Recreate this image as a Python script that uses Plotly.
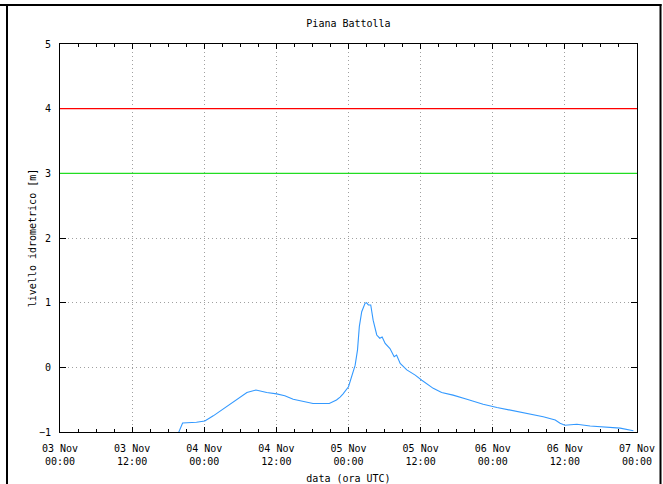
import plotly.graph_objects as go

title_text = "Piana Battolla"
y_title = "livello idrometrico [m]"
x_title = "data (ora UTC)"

times = [
    "2011-11-03 19:30", "2011-11-03 20:24", "2011-11-03 22:42", "2011-11-04 00:06",
    "2011-11-04 01:30", "2011-11-04 02:54", "2011-11-04 04:18", "2011-11-04 05:42",
    "2011-11-04 07:06", "2011-11-04 08:36", "2011-11-04 10:24", "2011-11-04 12:03",
    "2011-11-04 13:24", "2011-11-04 14:48", "2011-11-04 16:30", "2011-11-04 18:06",
    "2011-11-04 20:48", "2011-11-04 22:00", "2011-11-04 22:36", "2011-11-04 23:06",
    "2011-11-05 00:00", "2011-11-05 00:30", "2011-11-05 01:06", "2011-11-05 01:30",
    "2011-11-05 01:48", "2011-11-05 02:12", "2011-11-05 02:45", "2011-11-05 03:00",
    "2011-11-05 03:18", "2011-11-05 03:42", "2011-11-05 04:06", "2011-11-05 04:42",
    "2011-11-05 05:12", "2011-11-05 05:36", "2011-11-05 06:06", "2011-11-05 06:54",
    "2011-11-05 07:36", "2011-11-05 08:00", "2011-11-05 08:36", "2011-11-05 09:42",
    "2011-11-05 11:06", "2011-11-05 12:12", "2011-11-05 13:18", "2011-11-05 14:06",
    "2011-11-05 15:30", "2011-11-05 17:24", "2011-11-05 19:42", "2011-11-05 22:24",
    "2011-11-06 00:42", "2011-11-06 02:54", "2011-11-06 05:36", "2011-11-06 08:24",
    "2011-11-06 10:24", "2011-11-06 11:12", "2011-11-06 12:00", "2011-11-06 14:00",
    "2011-11-06 16:12", "2011-11-06 19:12", "2011-11-06 21:12", "2011-11-06 23:24",
]
levels = [
    -1.06, -0.86, -0.85, -0.83,
    -0.75, -0.66, -0.556, -0.47,
    -0.39, -0.35, -0.39, -0.41,
    -0.44, -0.495, -0.53, -0.56,
    -0.56, -0.505, -0.46, -0.41,
    -0.30, -0.15, 0.03, 0.27,
    0.63, 0.86, 0.99, 1.0,
    0.965, 0.965, 0.73, 0.50,
    0.45, 0.47, 0.37, 0.29,
    0.165, 0.19, 0.06, -0.04,
    -0.12, -0.20, -0.27, -0.325,
    -0.39, -0.43, -0.495, -0.57,
    -0.62, -0.66, -0.71, -0.765,
    -0.815, -0.865, -0.896, -0.88,
    -0.907, -0.92, -0.94, -0.98,
]

threshold_levels = [4, 3]
threshold_colors = ["#ff0000", "#22dd22"]

x_range = ["2011-11-03 00:00", "2011-11-07 00:00"]
y_range = [-1, 5]

tick_dates = [
    "2011-11-03 00:00", "2011-11-03 12:00", "2011-11-04 00:00", "2011-11-04 12:00",
    "2011-11-05 00:00", "2011-11-05 12:00", "2011-11-06 00:00", "2011-11-06 12:00",
    "2011-11-07 00:00",
]
tick_labels = [
    "03 Nov<br>00:00", "03 Nov<br>12:00", "04 Nov<br>00:00", "04 Nov<br>12:00",
    "05 Nov<br>00:00", "05 Nov<br>12:00", "06 Nov<br>00:00", "06 Nov<br>12:00",
    "07 Nov<br>00:00",
]

FONT = "DejaVu Sans Mono"
W, H = 663, 484
ML, MR, MT, MB = 60, 26, 44, 52
PW, PH = W - ML - MR, H - MT - MB


def px_x(p):
    return (p - ML) / PW


def px_y(p):
    return (H - MB - p) / PH


fig = go.Figure()
fig.add_trace(go.Scatter(
    x=times, y=levels, mode="lines",
    line=dict(color="#3399ff", width=1.1),
    showlegend=False,
))
for lvl, col in zip(threshold_levels, threshold_colors):
    fig.add_hline(y=lvl, line=dict(color=col, width=1.2))

# outer frame
frame = dict(type="line", xref="paper", yref="paper", line=dict(color="black", width=2))
fig.add_shape(**frame, x0=px_x(0), x1=px_x(661.5), y0=px_y(5), y1=px_y(5))
fig.add_shape(**frame, x0=px_x(7), x1=px_x(7), y0=px_y(4), y1=px_y(500))
fig.add_shape(**frame, x0=px_x(660.5), x1=px_x(660.5), y0=px_y(4), y1=px_y(500))

axis_common = dict(
    showline=True, linecolor="black", linewidth=1, mirror="ticks",
    ticks="inside", tickcolor="black",
    showgrid=True, gridcolor="#a0a0a0", griddash="1px,3px", gridwidth=1,
    tickfont=dict(family=FONT, size=10, color="black"),
    zeroline=False, automargin=False,
)

fig.update_xaxes(
    **axis_common,
    type="date", range=x_range,
    tickmode="array", tickvals=tick_dates, ticktext=tick_labels,
    ticklen=5, ticklabelstandoff=7,
    minor=dict(dtick=3 * 3600 * 1000, ticks="inside", ticklen=3, tickcolor="black", showgrid=False),
    title=dict(text=x_title, font=dict(family=FONT, size=10, color="black"), standoff=12),
)
fig.update_yaxes(
    **axis_common,
    range=y_range, dtick=1, tick0=0,
    ticklen=6, ticklabelstandoff=6,
    title=dict(text=y_title, font=dict(family=FONT, size=10, color="black"), standoff=0),
)

fig.update_layout(
    width=W, height=H,
    margin=dict(l=ML, r=MR, t=MT, b=MB),
    paper_bgcolor="white", plot_bgcolor="white",
    font=dict(family=FONT, size=10, color="black"),
    title=dict(text=title_text, x=(348.5) / W, xanchor="center",
               y=1 - 23 / H, yanchor="middle", font=dict(family=FONT, size=10, color="black")),
)

fig.write_html("out.html")
